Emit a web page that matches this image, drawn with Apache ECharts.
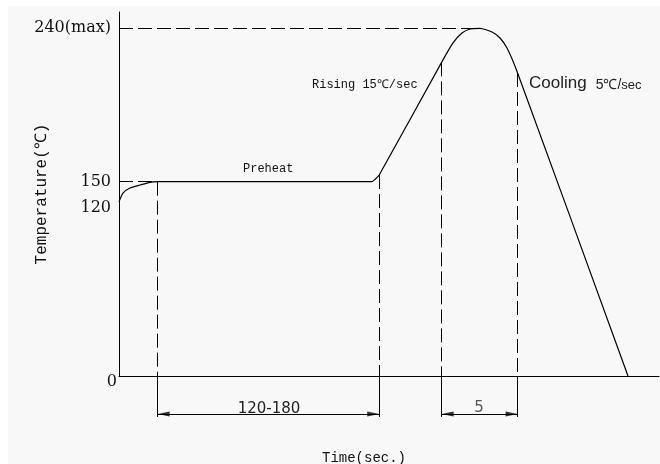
<!DOCTYPE html>
<html><head><meta charset="utf-8">
<script src="https://cdn.jsdelivr.net/npm/echarts@6/dist/echarts.min.js"></script>
<style>html,body{margin:0;padding:0;background:#fff;overflow:hidden}#c{width:660px;height:464px}</style>
</head><body><div id="c"></div>
<script>
// ---- data (schematic reflow profile) ----
const curveTime = [0, 2, 5.5, 10.5, 15.5, 19.3, 126.3, 128.2, 130.1, 161.3, 167, 171.5, 175.5, 180.5, 186.5, 190.5, 194, 199.3, 254.5];
const curveTemp = [127.2, 137.1, 142.8, 146.2, 149.3, 150, 150, 151.6, 153.9, 220, 231.4, 237.2, 239.6, 240, 237.8, 234.3, 228.4, 213.8, 0];
const yTickTemps = [0, 120, 150, 240];
const yTickLabels = ['0', '120', '150', '240(max)'];
const guideTimes = [19.3, 130.1, 161.3, 199.3];
const guideTemps = [150, 153.9, 220, 213.8];
const maxTemp = 240, maxLineEnd = 178;
const preheatTemp = 150, preheatStart = 19.3;
const dimStart = [19.3, 161.3];
const dimEnd = [130.1, 199.3];

// ---- schematic (piecewise) temperature scale ----
const TEMP_ANCHORS = [0, 120, 150, 240];
const DISP_ANCHORS = [0, 168, 194.3, 347.7];
function toDisp(t) {
  for (let i = 1; i < TEMP_ANCHORS.length; i++) {
    if (t <= TEMP_ANCHORS[i] || i === TEMP_ANCHORS.length - 1) {
      const a = TEMP_ANCHORS[i - 1], b = TEMP_ANCHORS[i];
      return DISP_ANCHORS[i - 1] + (t - a) / (b - a) * (DISP_ANCHORS[i] - DISP_ANCHORS[i - 1]);
    }
  }
}
const EXT_Y = -41, DIM_Y = -38;

const chart = echarts.init(document.getElementById('c'), null, {renderer: 'canvas'});
const curve = curveTime.map((t, i) => [t, toDisp(curveTemp[i])]);
const dashed = [
  {coords: [[0, toDisp(maxTemp)], [maxLineEnd, toDisp(maxTemp)]]},
  {coords: [[0, toDisp(preheatTemp)], [preheatStart, toDisp(preheatTemp)]]}
].concat(guideTimes.map((t, i) => ({coords: [[t, toDisp(guideTemps[i])], [t, 0]]})));
const ext = guideTimes.map(t => ({coords: [[t, 0], [t, EXT_Y]]}));
const dims = dimStart.map((s, i) => ({coords: [[s, DIM_Y], [dimEnd[i], DIM_Y]]}));
const arrows = [];
dimStart.forEach((s, i) => {
  arrows.push({value: [s, DIM_Y], symbolRotate: 90, symbolOffset: [6, 0]});
  arrows.push({value: [dimEnd[i], DIM_Y], symbolRotate: -90, symbolOffset: [-6, 0]});
});

const mono = '"Liberation Mono", "DejaVu Sans Mono", monospace';
const sans = '"Liberation Sans", Arial, sans-serif';
chart.setOption({
  animation: false,
  backgroundColor: '#ffffff',
  graphic: [
    {type: 'rect', z: -10, shape: {x: 8, y: 6, width: 660, height: 470}, style: {fill: '#f8f8f8'}},
    {type: 'text', left: 243, top: 163, style: {text: 'Preheat', font: '12px ' + mono, fill: '#111'}},
    {type: 'text', left: 312, top: 79, style: {text: 'Rising 15℃/sec', font: '12px ' + mono, fill: '#111'}},
    {type: 'text', left: 529, top: 75, style: {
      text: '{a|Cooling}{b|5℃/}{c|sec}',
      rich: {
        a: {fontFamily: sans, fontSize: 17, fill: '#222', verticalAlign: 'bottom'},
        b: {fontFamily: sans, fontSize: 14, fill: '#222', verticalAlign: 'bottom', padding: [0, 0, 0, 9]},
        c: {fontFamily: sans, fontSize: 13, fill: '#222', verticalAlign: 'bottom'}
      }
    }},
    {type: 'text', x: 269, y: 409, style: {text: '120-180', font: '15px "DejaVu Sans", sans-serif', fill: '#222', align: 'center', verticalAlign: 'middle'}},
    {type: 'text', x: 479, y: 408, style: {text: '5', font: '15px "DejaVu Sans", sans-serif', fill: '#555', align: 'center', verticalAlign: 'middle'}}
  ],
  grid: {left: 119, top: 12, width: 540, height: 364, containLabel: false, outerBoundsMode: 'none'},
  xAxis: {
    type: 'value', min: 0, max: 270,
    name: 'Time(sec.)', nameLocation: 'middle', nameGap: 75, nameMoveOverlap: false,
    nameTextStyle: {fontFamily: mono, fontSize: 14, color: '#111', padding: [0, 50, 0, 0]},
    axisLine: {onZero: false, lineStyle: {color: '#000', width: 1}},
    axisTick: {show: false}, axisLabel: {show: false}, splitLine: {show: false}
  },
  yAxis: {
    type: 'value', min: 0, max: 364,
    name: 'Temperature(℃)', nameLocation: 'middle', nameGap: 69, nameMoveOverlap: false,
    nameTextStyle: {fontFamily: mono, fontSize: 16, color: '#111'},
    axisLine: {lineStyle: {color: '#000', width: 1}},
    axisTick: {show: false}, splitLine: {show: false},
    axisLabel: {
      customValues: yTickTemps.map(toDisp),
      margin: 2,
      formatter: function (v) {
        let best = 0;
        yTickTemps.forEach((t, i) => { if (Math.abs(toDisp(t) - v) < Math.abs(toDisp(yTickTemps[best]) - v)) best = i; });
        return yTickTemps[best] === 0 ? '{z|' + yTickLabels[best] + '}' : '{a|' + yTickLabels[best] + '}';
      },
      rich: {
        a: {fontFamily: '"DejaVu Serif", serif', fontSize: 16, color: '#111', padding: [0, 6, 0, 0]},
        z: {fontFamily: '"DejaVu Serif", serif', fontSize: 16, color: '#111', padding: [11, 0, 0, 0]}
      }
    }
  },
  series: [
    {type: 'lines', coordinateSystem: 'cartesian2d', clip: false, z: 3,
     lineStyle: {color: '#000', width: 1, type: [14, 5], opacity: 1}, data: dashed},
    {type: 'lines', coordinateSystem: 'cartesian2d', clip: false, z: 3,
     lineStyle: {color: '#000', width: 1, opacity: 1}, data: ext},
    {type: 'lines', coordinateSystem: 'cartesian2d', clip: false, z: 3,
     lineStyle: {color: '#000', width: 1, opacity: 1}, data: dims},
    {type: 'scatter', clip: false, z: 5, symbol: 'triangle', symbolSize: [5, 12],
     itemStyle: {color: '#000'}, data: arrows},
    {type: 'line', data: curve, showSymbol: false, smooth: 0.2, clip: false, z: 4,
     lineStyle: {color: '#000', width: 1.2}}
  ]
});
</script></body></html>
